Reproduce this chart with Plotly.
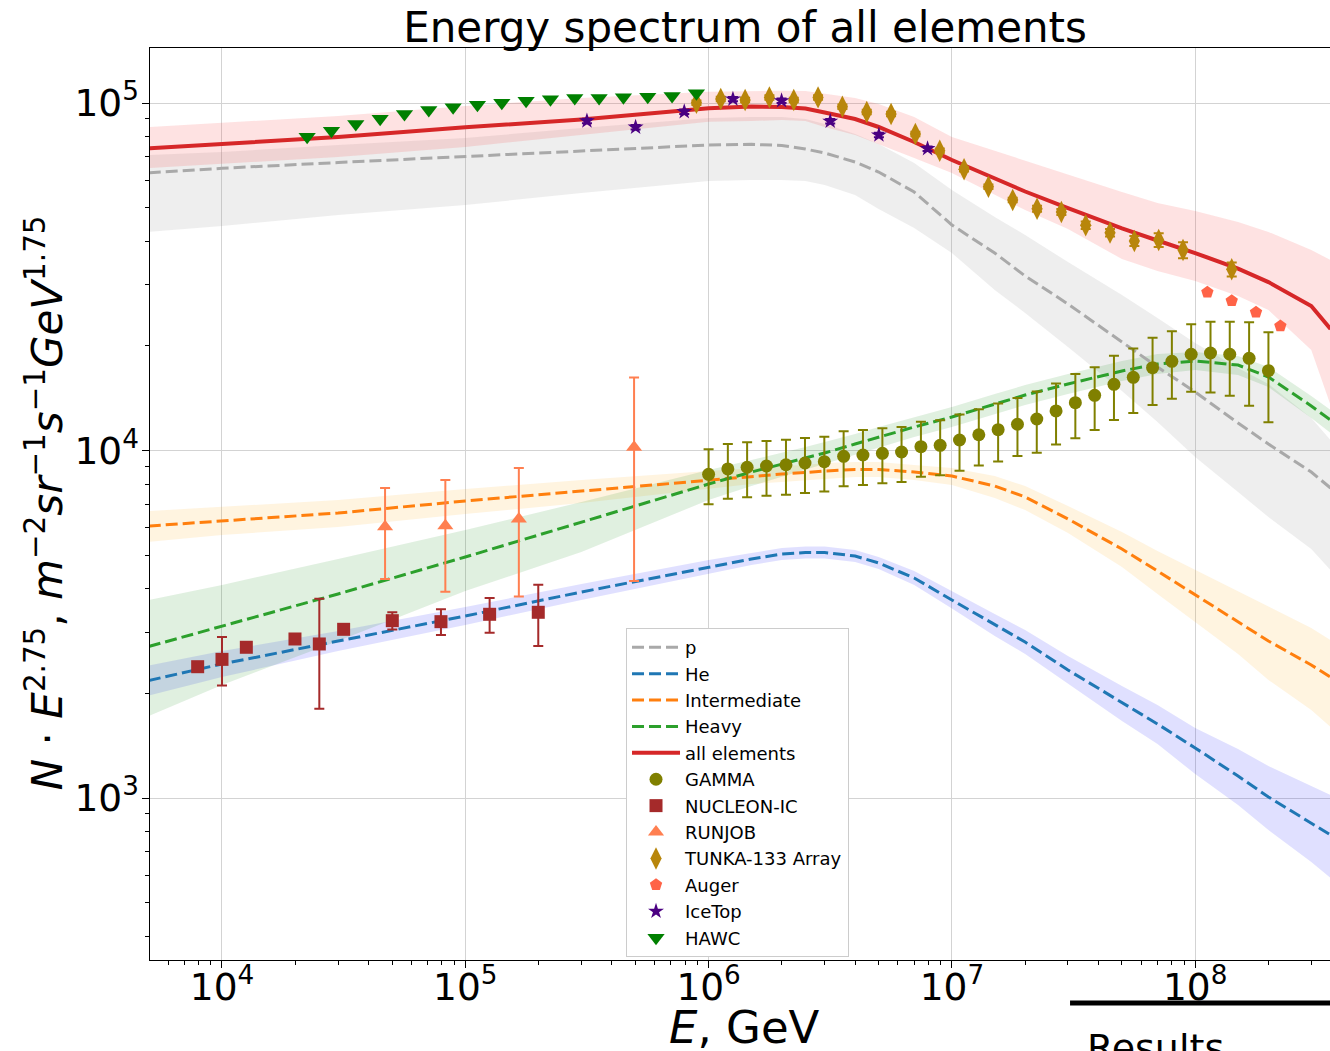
import plotly.graph_objects as go

# ---------------- model curves (common energy grid, GeV) ----------------
E_model = [5.0e3, 1e4, 3e4, 1e5, 3e5, 1e6, 1.5e6, 2e6, 2.5e6, 3e6, 4e6, 5e6, 7e6,
           1e7, 1.5e7, 2e7, 3e7, 5e7, 7e7, 1e8, 1.5e8, 2e8, 3e8, 3.6e8]

p_mid = [62970, 64880, 67420, 70060, 72760, 75700, 76070, 75460, 73720, 71800, 67640, 63300,
         55450, 44560, 37010, 31780, 26400, 20520, 17390, 14730, 12000, 10440, 8672, 7800]
p_lo = [42550, 44260, 47610, 50860, 55080, 59640, 60040, 60040, 59640, 58070, 54370, 49550,
        43690, 37010, 28970, 24870, 19850, 14830, 12080, 9578, 7596, 6436, 5206, 4530]
p_hi = [70860, 72280, 75700, 79310, 84760, 90540, 91150, 91150, 89950, 87020, 81440, 76210,
        67190, 56180, 46970, 41700, 34860, 28020, 24060, 20390, 17280, 15540, 12400, 10720]

he_mid = [2178, 2430, 2830, 3339, 3916, 4620, 4873, 5037, 5087, 5087, 4971, 4746,
          4297, 3714, 3147, 2811, 2335, 1877, 1633, 1393, 1157, 1007, 847.6, 782.6]
he_hi = [2406, 2649, 3024, 3544, 4129, 4841, 5070, 5241, 5293, 5293, 5173, 4938,
         4500, 3929, 3384, 3044, 2562, 2101, 1852, 1590, 1384, 1236, 1083, 1020]
he_lo = [1972, 2229, 2649, 3147, 3714, 4411, 4683, 4841, 4889, 4889, 4777, 4560,
         4102, 3510, 2926, 2597, 2129, 1666, 1430, 1172, 954.8, 808.9, 654.3, 588.6]

int_mid = [6063, 6267, 6609, 7156, 7647, 8226, 8445, 8558, 8643, 8730, 8818, 8818,
           8672, 8445, 7902, 7349, 6353, 5206, 4500, 3839, 3210, 2830, 2414, 2229]
int_hi = [6696, 6877, 7204, 7748, 8226, 8730, 8906, 9025, 9085, 9204, 9267, 9267,
          9085, 8906, 8445, 7902, 6923, 5829, 5138, 4530, 3942, 3544, 3085, 2849]
int_lo = [5454, 5713, 6024, 6567, 7061, 7748, 8008, 8116, 8226, 8279, 8389, 8389,
          8226, 7955, 7300, 6741, 5790, 4620, 3865, 3210, 2597, 2186, 1791, 1601]

heavy_mid = [2729, 3126, 3865, 4938, 6225, 8008, 8672, 9145, 9515, 9835, 10440, 10935,
             11684, 12486, 13610, 14443, 15535, 16936, 17736, 18094, 17620, 16276, 13434, 12240]
heavy_hi = [3714, 4102, 4873, 5905, 7108, 8789, 9391, 9835, 10235, 10580, 11155, 11684,
            12486, 13345, 14540, 15431, 16600, 18094, 18955, 19210, 18703, 17390, 14350, 13080]
heavy_lo = [1722, 2115, 2830, 3942, 5103, 7204, 7902, 8389, 8789, 9145, 9707, 10167,
            10935, 11684, 12735, 13519, 14540, 15849, 16600, 17050, 16494, 15229, 12403, 11231]

all_mid = [74060, 76210, 79840, 85150, 89640, 96540, 97700, 97390, 96430, 93910, 89950, 85310,
           77220, 68550, 60440, 55630, 49850, 43540, 40210, 37010, 33390, 30530, 26050, 22370]
all_hi = [85310, 87600, 91760, 98040, 103370, 107770, 108270, 108500, 108270, 106140, 103370, 99330,
          91150, 79840, 72760, 68090, 62070, 55450, 51540, 48890, 45460, 42550, 37760, 35330]
all_lo = [65000, 66750, 69920, 74710, 80900, 88370, 88760, 89350, 88760, 85310, 80900, 76210,
          69460, 62900, 54370, 49210, 43400, 35570, 32850, 30730, 27830, 25370, 19460, 13520]

# ---------------- experimental data ----------------
gamma_E = [1.00e6, 1.20e6, 1.44e6, 1.73e6, 2.08e6, 2.49e6, 2.99e6, 3.59e6, 4.31e6, 5.18e6,
           6.21e6, 7.46e6, 8.95e6, 1.075e7, 1.29e7, 1.549e7, 1.86e7, 2.233e7, 2.68e7, 3.217e7,
           3.862e7, 4.636e7, 5.566e7, 6.681e7, 8.02e7, 9.628e7, 1.156e8, 1.387e8, 1.666e8, 2.0e8]
gamma_V = [8540, 8850, 8950, 9025, 9100, 9205, 9285, 9623, 9707, 9815,
           9901, 10254, 10350, 10720, 11100, 11480, 11900, 12320, 13000, 13730,
           14410, 15500, 16240, 17310, 18060, 18920, 19080, 18920, 18420, 16970]
gamma_err = [1540, 1590, 1610, 1620, 1640, 1660, 1670, 1730, 1750, 1770,
             1780, 1850, 1860, 1980, 2050, 2180, 2260, 2460, 2600, 2880,
             2950, 3250, 3410, 3800, 3970, 4160, 4390, 4540, 4970, 4920]

nucleon_E = [7943, 10000, 12590, 19950, 25120, 31620, 50120, 79430, 125900, 199500]
nucleon_V = [2387, 2506, 2715, 2868, 2775, 3058, 3238, 3217, 3378, 3423]
nucleon_err = [48, 400, 54, 57, 970, 92, 185, 273, 388, 685]

runjob_E = [46800, 82800, 166000, 494000]
runjob_V = [6035, 6075, 6352, 10214]
runjob_err = [1770, 2150, 2550, 6000]

tunka_E = [8.913e5, 1.122e6, 1.413e6, 1.778e6, 2.239e6, 2.818e6, 3.548e6, 4.467e6, 5.623e6,
           7.079e6, 8.913e6, 1.122e7, 1.413e7, 1.778e7, 2.239e7, 2.818e7, 3.548e7, 4.467e7,
           5.623e7, 7.079e7, 8.913e7, 1.413e8]
tunka_V = [100200, 102700, 102000, 103800, 102000, 103800, 97600, 94200, 93000, 81400, 72900,
           64450, 57420, 52600, 49640, 48570, 44480, 42350, 40090, 40350, 37760, 33220]
tunka_err = [1500, 1540, 1530, 1560, 1530, 1560, 1460, 1410, 1400, 1220, 1090,
             970, 860, 790, 990, 970, 1110, 1060, 1320, 1820, 2000, 1560]

auger_E = [1.122e8, 1.413e8, 1.778e8, 2.239e8]
auger_V = [28530, 26990, 24990, 22820]

icetop_E = [3.162e5, 5.012e5, 7.943e5, 1.259e6, 1.995e6, 3.162e6, 5.012e6, 7.943e6]
icetop_V = [88800, 85200, 94400, 102600, 101500, 88600, 80900, 73900]
icetop_err = [1300, 1300, 1400, 1500, 1500, 1300, 1200, 1100]

hawc_E = [22390, 28180, 35480, 44670, 56230, 70790, 89130, 112200, 141300, 177800,
          223900, 281800, 354800, 446700, 562300, 707900, 891300]
hawc_V = [80000, 83200, 87000, 90100, 92900, 95500, 97200, 98900, 100200, 101500,
          102500, 103400, 103400, 103900, 104300, 104700, 106600]

fig = go.Figure()


def band(lo, hi, color):
    fig.add_trace(go.Scatter(x=E_model, y=lo, mode='lines', line=dict(width=0),
                             showlegend=False, hoverinfo='skip'))
    fig.add_trace(go.Scatter(x=E_model, y=hi, mode='lines', line=dict(width=0),
                             fill='tonexty', fillcolor=color, showlegend=False, hoverinfo='skip'))


band(p_lo, p_hi, 'rgba(150,150,150,0.16)')
band(he_lo, he_hi, 'rgba(0,0,255,0.12)')
band(int_lo, int_hi, 'rgba(255,165,0,0.12)')
band(heavy_lo, heavy_hi, 'rgba(0,128,0,0.12)')
band(all_lo, all_hi, 'rgba(245,60,60,0.15)')

dash = '12px,5px'
fig.add_trace(go.Scatter(x=E_model, y=p_mid, mode='lines', name='p',
                         line=dict(color='#a9a9a9', width=3, dash=dash)))
fig.add_trace(go.Scatter(x=E_model, y=he_mid, mode='lines', name='He',
                         line=dict(color='#1f77b4', width=3, dash=dash)))
fig.add_trace(go.Scatter(x=E_model, y=int_mid, mode='lines', name='Intermediate',
                         line=dict(color='#ff7f0e', width=3, dash=dash)))
fig.add_trace(go.Scatter(x=E_model, y=heavy_mid, mode='lines', name='Heavy',
                         line=dict(color='#2ca02c', width=3, dash=dash)))
fig.add_trace(go.Scatter(x=E_model, y=all_mid, mode='lines', name='all elements',
                         line=dict(color='#d62728', width=4)))


def pts(x, y, err, name, color, symbol, size):
    kw = {}
    if err is not None:
        kw['error_y'] = dict(type='data', array=err, color=color, thickness=2, width=5)
    fig.add_trace(go.Scatter(x=x, y=y, mode='markers', name=name,
                             marker=dict(color=color, symbol=symbol, size=size, line=dict(width=0)),
                             **kw))


pts(gamma_E, gamma_V, gamma_err, 'GAMMA', '#808000', 'circle', 13)
pts(nucleon_E, nucleon_V, nucleon_err, 'NUCLEON-IC', '#a52a2a', 'square', 13)
pts(runjob_E, runjob_V, runjob_err, 'RUNJOB', '#ff7f50', 'triangle-up', 14)
pts(tunka_E, tunka_V, tunka_err, 'TUNKA-133 Array', '#b8860b', 'diamond-tall', 16)
pts(auger_E, auger_V, None, 'Auger', '#ff6347', 'pentagon', 13)
pts(icetop_E, icetop_V, icetop_err, 'IceTop', '#4b0082', 'star', 12)
pts(hawc_E, hawc_V, None, 'HAWC', '#008000', 'triangle-down', 15)

fig.update_layout(
    width=1330, height=1051,
    margin=dict(l=150, r=0, t=48, b=91),
    paper_bgcolor='white', plot_bgcolor='white',
    font=dict(family='DejaVu Sans', color='black'),
    title=dict(text='Energy spectrum of all elements', x=0.5602, xref='container', xanchor='center',
               y=1 - 27 / 1051, yref='container', yanchor='middle', font=dict(size=42, color='black')),
    legend=dict(x=0.4034, y=0.364, xanchor='left', yanchor='top', bgcolor='white',
                bordercolor='#cccccc', borderwidth=1, font=dict(size=18), tracegroupgap=0,
                traceorder='normal', itemwidth=48),
    showlegend=True,
)

fig.update_xaxes(type='log', range=[3.7041, 8.5541], dtick=1, exponentformat='power',
                 showgrid=True, gridcolor='#d3d3d3', gridwidth=1, zeroline=False,
                 ticks='outside', ticklen=7, tickwidth=1.2, tickcolor='black',
                 showline=True, linecolor='black', linewidth=1.2, mirror=True,
                 tickfont=dict(size=30), ticklabelstandoff=-12,
                 minor=dict(ticks='outside', ticklen=4, tickcolor='black', tickwidth=1, showgrid=False))
fig.update_yaxes(type='log', range=[2.5338, 5.1583], dtick=1, exponentformat='power',
                 showgrid=True, gridcolor='#d3d3d3', gridwidth=1, zeroline=False,
                 ticks='outside', ticklen=7, tickwidth=1.2, tickcolor='black',
                 showline=True, linecolor='black', linewidth=1.2,
                 tickfont=dict(size=30), ticklabelstandoff=-3,
                 minor=dict(ticks='outside', ticklen=4, tickcolor='black', tickwidth=1, showgrid=False))

fig.add_annotation(text='<i>E</i>, GeV', xref='paper', yref='paper', x=0.504, y=-0.0745,
                   xanchor='center', yanchor='middle', showarrow=False, font=dict(size=45))
fig.add_annotation(text='<i>N</i> · <i>E</i><sup>2.75</sup>, <i>m</i><sup>−2</sup><i>sr</i><sup>−1</sup>'
                        '<i>s</i><sup>−1</sup><i>GeV</i><sup>1.75</sup>',
                   xref='paper', yref='paper', x=-0.089, y=0.502, textangle=-90,
                   xanchor='center', yanchor='middle', showarrow=False, font=dict(size=42))
fig.add_annotation(text='Results', xref='paper', yref='paper', x=0.7924, y=-0.070,
                   xanchor='left', yanchor='top', showarrow=False, font=dict(size=38))
fig.add_shape(type='line', xref='paper', yref='paper', x0=0.7797, x1=1.0, y0=-0.0471, y1=-0.0471,
              line=dict(color='black', width=5))

# remove the default page margin so the figure fills the window exactly; hide the modebar
fig.write_html('out.html', config={'displayModeBar': False},
               post_script="document.body.style.margin='0px';document.body.style.overflow='hidden';")
